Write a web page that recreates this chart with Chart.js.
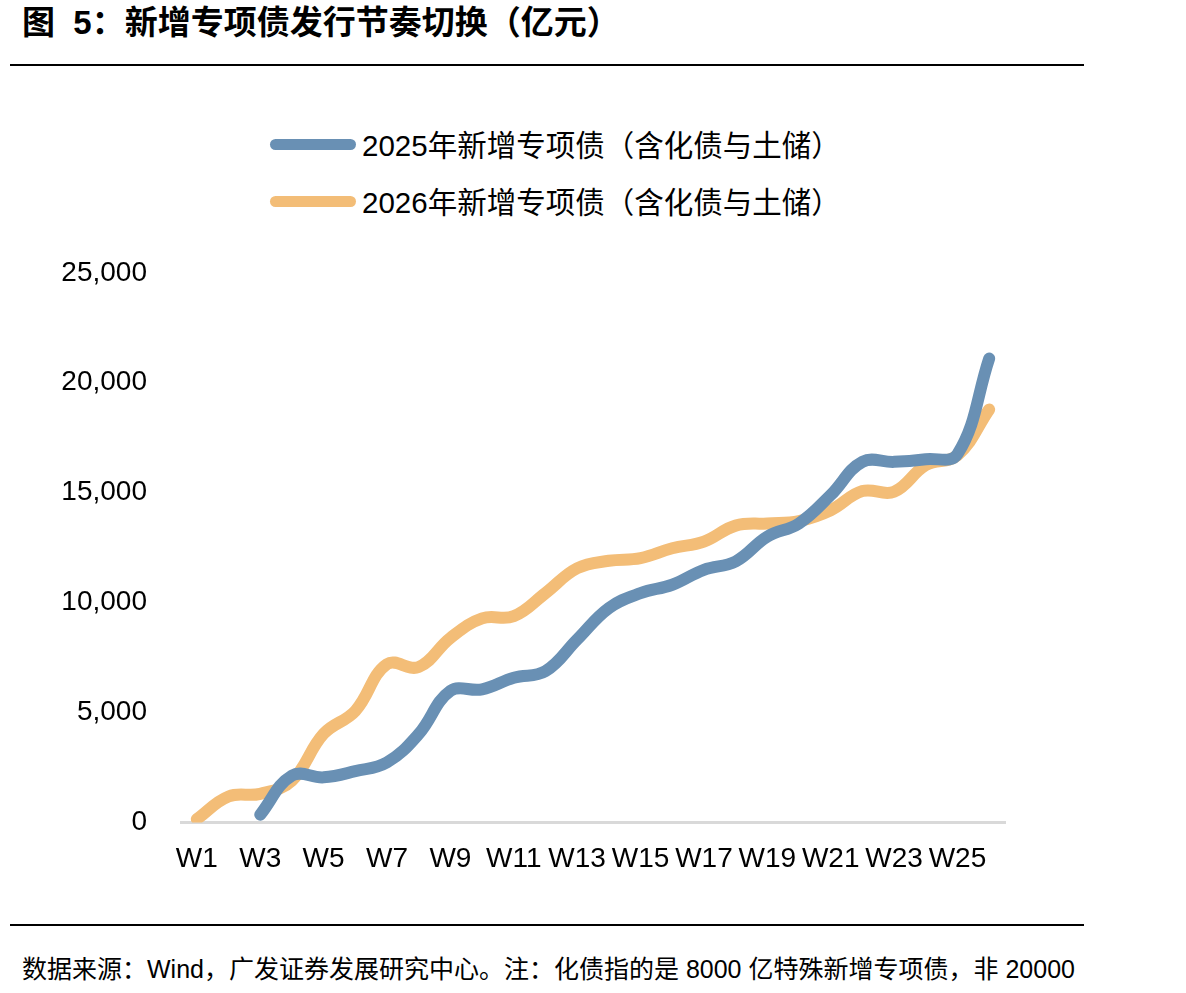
<!DOCTYPE html>
<html>
<head>
<meta charset="utf-8">
<script src="https://cdn.jsdelivr.net/npm/chart.js@4.4.1/dist/chart.umd.min.js"></script>
<style>
  body { margin: 0; background: #fff; width: 1186px; height: 993px; position: relative; overflow: hidden;
         font-family: "Liberation Sans", "Noto Sans CJK SC", sans-serif; color: #000; }
  #title { position: absolute; left: 22px; top: -4px; font-size: 33px; font-weight: bold; white-space: nowrap; }
  .rule { position: absolute; left: 10px; width: 1074px; height: 2px; background: #000; }
  #legend { position: absolute; left: 270px; top: 116px; }
  .item { display: flex; align-items: center; height: 57px; font-size: 29.5px; white-space: nowrap; }
  .item span:last-child { position: relative; top: -2px; }
  .swatch { width: 86px; height: 11px; border-radius: 6px; margin-right: 6px; }
  #wrap { position: absolute; left: 0; top: 222px; width: 1186px; height: 674px; }
  #footer { position: absolute; left: 22px; top: 949px; font-size: 25px; white-space: nowrap; }
</style>
</head>
<body>
<div id="title">图&nbsp;&nbsp;5：新增专项债发行节奏切换（亿元）</div>
<div class="rule" style="top:64px"></div>
<div id="legend"></div>
<div id="wrap"><canvas id="chart"></canvas></div>
<div class="rule" style="top:924px"></div>
<div id="footer">数据来源：Wind，广发证券发展研究中心。注：化债指的是 8000 亿特殊新增专项债，非 20000</div>
<script>
'use strict';

const weeks = [];
for (let i = 1; i <= 26; i++) weeks.push('W' + i);

const series2025 = [null, null, 350, 2130, 2050, 2330, 2730, 4020, 5980, 6050, 6580, 6880, 8320,
  9750, 10430, 10810, 11490, 11870, 13000, 13600, 14890, 16400, 16400, 16520, 16750, 21100];
const series2026 = [150, 1180, 1300, 1900, 4030, 5070, 7200, 7070, 8390, 9280, 9380, 10430, 11560,
  11900, 12020, 12470, 12770, 13500, 13600, 13710, 14200, 15070, 15040, 16250, 16700, 18780];

const seriesNames = ['2025年新增专项债（含化债与土储）', '2026年新增专项债（含化债与土储）'];
const seriesColors = ['#6990b4', '#f3bd77'];

const yTicks = [0, 5000, 10000, 15000, 20000, 25000];

function makeDataset(label, data, color) {
  return {
    label: label,
    data: data,
    borderColor: color,
    backgroundColor: color,
    borderWidth: 12,
    borderCapStyle: 'round',
    borderJoinStyle: 'round',
    pointRadius: 0,
    tension: 0.4,
    fill: false
  };
}

const chart = new Chart(document.getElementById('chart'), {
  type: 'line',
  data: {
    labels: weeks,
    datasets: [
      makeDataset(seriesNames[0], series2025, seriesColors[0]),
      makeDataset(seriesNames[1], series2026, seriesColors[1])
    ]
  },
  options: {
    responsive: true,
    maintainAspectRatio: false,
    animation: false,
    layout: { padding: { top: 8, right: 181, left: 0, bottom: 0 } },
    plugins: { legend: { display: false }, tooltip: { enabled: false } },
    scales: {
      x: {
        offset: true,
        grid: { display: false, drawTicks: false },
        border: { display: true, color: '#d9d9d9', width: 3 },
        ticks: {
          autoSkip: false,
          maxRotation: 0,
          padding: 20,
          color: '#000',
          font: { size: 28, family: 'Liberation Sans' },
          callback: function (value, index) {
            return index % 2 === 0 ? weeks[index] : '';
          }
        }
      },
      y: {
        min: 0,
        max: 25000,
        afterBuildTicks: function (scale) {
          scale.ticks = yTicks.map(function (v) { return { value: v }; });
        },
        afterFit: function (scale) { scale.width = 181; },
        grid: { display: false, drawTicks: false },
        border: { display: false },
        ticks: {
          padding: 34,
          color: '#000',
          font: { size: 28, family: 'Liberation Sans' },
          callback: function (value) { return value.toLocaleString('en-US'); }
        }
      }
    }
  }
});

const legend = document.getElementById('legend');
chart.data.datasets.forEach(function (ds) {
  const item = document.createElement('div');
  item.className = 'item';
  const sw = document.createElement('span');
  sw.className = 'swatch';
  sw.style.background = ds.borderColor;
  const text = document.createElement('span');
  text.textContent = ds.label;
  item.appendChild(sw);
  item.appendChild(text);
  legend.appendChild(item);
});
</script>
</body>
</html>
